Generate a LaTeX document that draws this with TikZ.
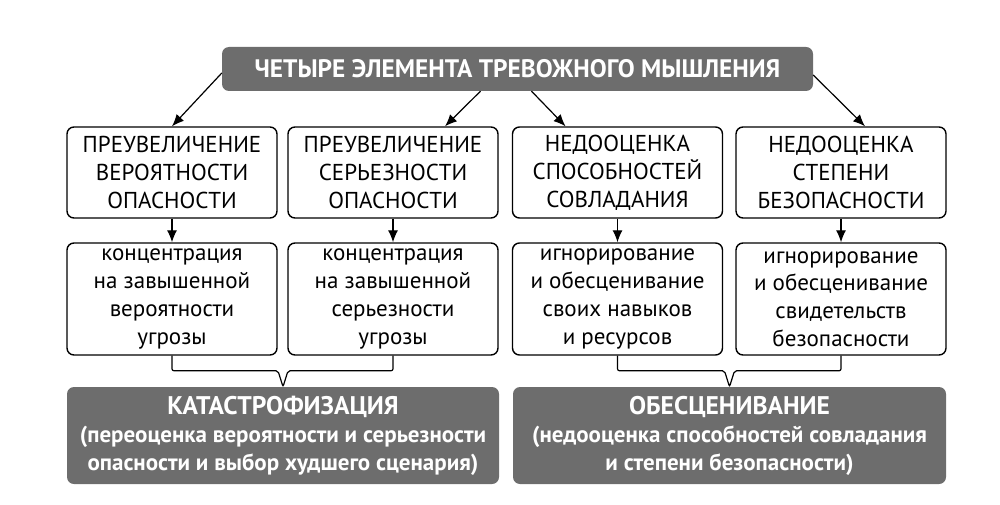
\documentclass[tikz,border=0pt]{standalone}
\usepackage{fontspec}
\setmainfont{PT Sans}
\usetikzlibrary{arrows.meta,calc}
\definecolor{boxgray}{RGB}{109,109,109}
\begin{document}
\begin{tikzpicture}[x=1pt,y=-1pt,
  wbox/.style={draw, line width=1.4pt, rounded corners=7pt, fill=white,
    minimum width=210pt, inner sep=0pt, align=center,
    font=\fontsize{23}{27.8}\selectfont},
  gbox/.style={fill=boxgray, rounded corners=7pt, text=white, inner sep=0pt,
    align=center},
  arr/.style={-{Latex[length=12pt,width=10pt]}, line width=1.2pt},
  brk/.style={line width=1.2pt, rounded corners=2pt}]
\useasboundingbox (0,0) rectangle (1000,505);
% title
\node[gbox, minimum width=591pt, minimum height=44pt,
  font=\fontsize{25.3}{30}\selectfont\bfseries] (top) at (517.5,69)
  {ЧЕТЫРЕ ЭЛЕМЕНТА ТРЕВОЖНОГО МЫШЛЕНИЯ};
% row 1
\node[wbox, minimum height=91pt] (a1) at (172,172.5) {ПРЕУВЕЛИЧЕНИЕ\\ВЕРОЯТНОСТИ\\ОПАСНОСТИ};
\node[wbox, minimum height=91pt] (b1) at (393,172.5) {ПРЕУВЕЛИЧЕНИЕ\\СЕРЬЕЗНОСТИ\\ОПАСНОСТИ};
\node[wbox, minimum height=91pt] (c1) at (617.5,172.5) {НЕДООЦЕНКА\\СПОСОБНОСТЕЙ\\СОВЛАДАНИЯ};
\node[wbox, minimum height=91pt] (d1) at (841,172.5) {НЕДООЦЕНКА\\СТЕПЕНИ\\БЕЗОПАСНОСТИ};
% row 2
\node[wbox, minimum height=112pt] (a2) at (172,299) {концентрация\\на завышенной\\вероятности\\угрозы};
\node[wbox, minimum height=112pt] (b2) at (393,299) {концентрация\\на завышенной\\серьезности\\угрозы};
\node[wbox, minimum height=112pt] (c2) at (617.5,299) {игнорирование\\и обесценивание\\своих навыков\\и ресурсов};
\node[wbox, minimum height=112pt] (d2) at (841,299) {игнорирование\\и обесценивание\\свидетельств\\безопасности};
% bottom
\node[gbox, minimum width=432pt, minimum height=97pt,
  font=\fontsize{23}{28}\selectfont\bfseries] (kat) at (283,435.5)
  {{\fontsize{25.5}{28}\selectfont КАТАСТРОФИЗАЦИЯ}\\(переоценка вероятности и серьезности\\опасности и выбор худшего сценария)};
\node[gbox, minimum width=433pt, minimum height=97pt,
  font=\fontsize{23}{28}\selectfont\bfseries] (obe) at (729.5,435.5)
  {{\fontsize{25.5}{28}\selectfont ОБЕСЦЕНИВАНИЕ}\\(недооценка способностей совладания\\и степени безопасности)};
% arrows from title
\draw[arr] ($(top.west)+(0,4)$) -- (a1.north);
\draw[arr] ($(top.south)+(-37,0)$) -- ($(b1.north)+(52,0)$);
\draw[arr] ($(top.south)+(14,0)$) -- ($(c1.north)+(-52,0)$);
\draw[arr] ($(top.east)+(0,6)$) -- ($(d1.north)+(24,0)$);
% row1 -> row2
\draw[arr] (a1) -- (a2);
\draw[arr] (b1) -- (b2);
\draw[arr] (c1) -- (c2);
\draw[arr] (d1) -- (d2);
% brackets
\coordinate (jl) at ($(kat.north)+(0,-16)$);
\coordinate (jr) at ($(obe.north)+(0,-16)$);
\draw[brk] (a2.south) |- ($(jl)+(-5,0)$) -- (kat.north) -- ($(jl)+(5,0)$) -| (b2.south);
\draw[brk] (c2.south) |- ($(jr)+(-5,0)$) -- (obe.north) -- ($(jr)+(5,0)$) -| (d2.south);
\end{tikzpicture}
\end{document}
